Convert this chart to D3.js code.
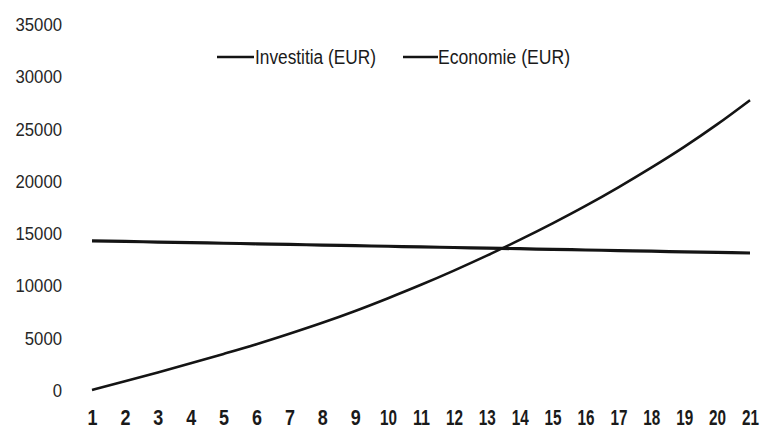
<!DOCTYPE html>
<html>
<head>
<meta charset="utf-8">
<script src="https://cdn.jsdelivr.net/npm/d3@7"></script>
<style>
  html, body { margin: 0; padding: 0; background: #ffffff; }
  svg { display: block; }
</style>
</head>
<body>
<svg id="chart" width="767" height="435"></svg>
<script>
const years = d3.range(1, 22); // category labels 1..21
const investitia = [0, 830, 1680, 2550, 3450, 4380, 5380, 6430, 7560, 8780, 10060, 11420, 12850, 14350, 15930, 17600, 19380, 21260, 23250, 25400, 27720];
const economie = [14270, 14210, 14150, 14095, 14035, 13980, 13920, 13860, 13800, 13745, 13685, 13625, 13570, 13510, 13450, 13390, 13335, 13275, 13215, 13160, 13100];
const yTicks = [0, 5000, 10000, 15000, 20000, 25000, 30000, 35000];
const seriesNames = ["Investitia (EUR)", "Economie (EUR)"];

const svg = d3.select("#chart");
const x = d3.scalePoint().domain(years).range([92, 750]);
const y = d3.scaleLinear().domain([0, 35000]).range([390, 24]);

const ink = "#141414";
const font = "'Liberation Sans', Arial, sans-serif";

// Y axis labels (no axis line)
const yAxis = d3.axisLeft(y).tickValues(yTicks).tickSize(0).tickPadding(0).tickFormat(d3.format("d"));
const gy = svg.append("g").attr("transform", "translate(62,0)").call(yAxis);
gy.select(".domain").remove();
gy.selectAll("text")
  .attr("fill", "#262626")
  .attr("font-family", font)
  .attr("font-size", 18)
  .attr("dy", "0.36em")
  .each(function () {
    const t = d3.select(this);
    t.attr("textLength", t.text().length * 9.3).attr("lengthAdjust", "spacingAndGlyphs");
  });

// X axis labels
const xAxis = d3.axisBottom(x).tickSize(0).tickPadding(0);
const gx = svg.append("g").attr("transform", "translate(0,409)").call(xAxis);
gx.select(".domain").remove();
gx.selectAll("text")
  .attr("fill", "#1a1a1a")
  .attr("font-family", font)
  .attr("font-weight", "bold")
  .attr("font-size", 22)
  .attr("dy", "0.71em")
  .each(function () {
    const t = d3.select(this);
    t.attr("textLength", t.text().length === 1 ? 10 : 17).attr("lengthAdjust", "spacingAndGlyphs");
  });

// Lines
const line = d3.line().x((d, i) => x(years[i])).y(d => y(d)).curve(d3.curveMonotoneX);

svg.append("path").datum(economie)
  .attr("d", line).attr("fill", "none").attr("stroke", ink).attr("stroke-width", 3.2);
svg.append("path").datum(investitia)
  .attr("d", line).attr("fill", "none").attr("stroke", ink).attr("stroke-width", 2.6);

// Legend
const legend = [
  { name: seriesNames[0], x0: 217, x1: 254, tx: 255, w: 121 },
  { name: seriesNames[1], x0: 403, x1: 438, tx: 438, w: 132 }
];
const lg = svg.append("g");
legend.forEach(l => {
  lg.append("line").attr("x1", l.x0).attr("x2", l.x1).attr("y1", 57).attr("y2", 57)
    .attr("stroke", ink).attr("stroke-width", 2.4);
  lg.append("text").attr("x", l.tx).attr("y", 57).attr("dy", "0.36em")
    .attr("fill", "#1a1a1a")
    .attr("font-family", font)
    .attr("font-size", 20)
    .attr("textLength", l.w).attr("lengthAdjust", "spacingAndGlyphs")
    .text(l.name);
});
</script>
</body>
</html>
